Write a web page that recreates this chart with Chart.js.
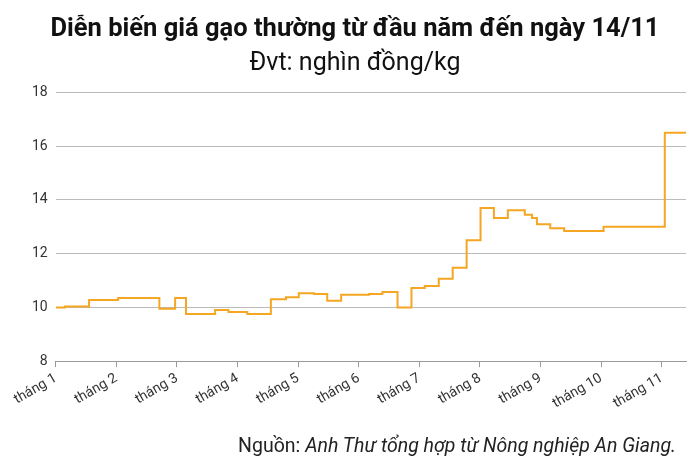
<!DOCTYPE html>
<html><head><meta charset="utf-8">
<script src="https://cdn.jsdelivr.net/npm/chart.js@4/dist/chart.umd.min.js"></script>
<style>
body{margin:0;background:#fff;font-family:Roboto,sans-serif;}
#wrap{position:relative;width:700px;height:467px;}
#foot{position:absolute;right:24px;top:434px;font-size:19.5px;color:#222;}
</style></head><body>
<div id="wrap"><canvas id="c" width="700" height="467"></canvas>
<div id="foot">Nguồn: <i>Anh Thư tổng hợp từ Nông nghiệp An Giang.</i></div></div>
<script>
const monthPos = [1.00,1.15,1.55,2.03,2.71,2.97,3.15,3.63,3.85,4.16,4.55,4.80,5.01,5.26,5.48,5.71,6.17,6.39,6.64,6.87,7.09,7.32,7.55,7.78,8.01,8.23,8.46,8.74,8.86,8.94,9.16,9.39,10.04,11.05,11.40];
const prices   = [10.00,10.03,10.28,10.35,9.95,10.35,9.75,9.90,9.83,9.75,10.30,10.38,10.53,10.50,10.25,10.47,10.50,10.57,10.00,10.72,10.80,11.07,11.48,12.50,13.70,13.33,13.62,13.45,13.33,13.10,12.95,12.85,13.00,16.50,16.50];
const tickLabels = ['tháng 1','tháng 2','tháng 3','tháng 4','tháng 5','tháng 6','tháng 7','tháng 8','tháng 9','tháng 10','tháng 11'];
const yTicks = [8,10,12,14,16,18];

// shift values so each price holds from its own month position onward
const stepData = monthPos.map((m,i)=>({x:m,y:i===0?prices[0]:prices[i-1]}));
new Chart(document.getElementById('c'),{
  type:'line',
  data:{datasets:[{data:monthPos.map((m,i)=>({x:m,y:prices[i]})),borderColor:'#f5a623',borderWidth:2,pointRadius:0,stepped:'before',fill:false}]},
  options:{
    responsive:false,animation:false,
    layout:{padding:{left:24,right:14,top:0,bottom:52}},
    plugins:{legend:{display:false},tooltip:{enabled:false},
      title:{display:true,text:'Diễn biến giá gạo thường từ đầu năm đến ngày 14/11',font:{family:'Roboto',size:25.5,weight:'bold'},color:'#111',padding:{top:14,bottom:4}},
      subtitle:{display:true,text:'Đvt: nghìn đồng/kg',font:{family:'Roboto',size:25},color:'#111',padding:{bottom:14}}},
    scales:{
      x:{type:'linear',min:1,max:11.4,
        afterBuildTicks:s=>{s.ticks=tickLabels.map((_,i)=>({value:i+1}));},
        ticks:{callback:v=>tickLabels[Math.round(v)-1]||'',maxRotation:30,minRotation:30,font:{family:'Roboto',size:14},color:'#333',autoSkip:false},
        grid:{drawOnChartArea:false,drawTicks:true,tickLength:6,color:'#999'},border:{color:'#999'}},
      y:{min:8,max:18,
        afterBuildTicks:s=>{s.ticks=yTicks.map(v=>({value:v}));},
        ticks:{font:{family:'Roboto',size:14},color:'#333',padding:8},
        grid:{color:'#bbb',drawTicks:false},border:{display:false}}
    }
  }
});
</script></body></html>
